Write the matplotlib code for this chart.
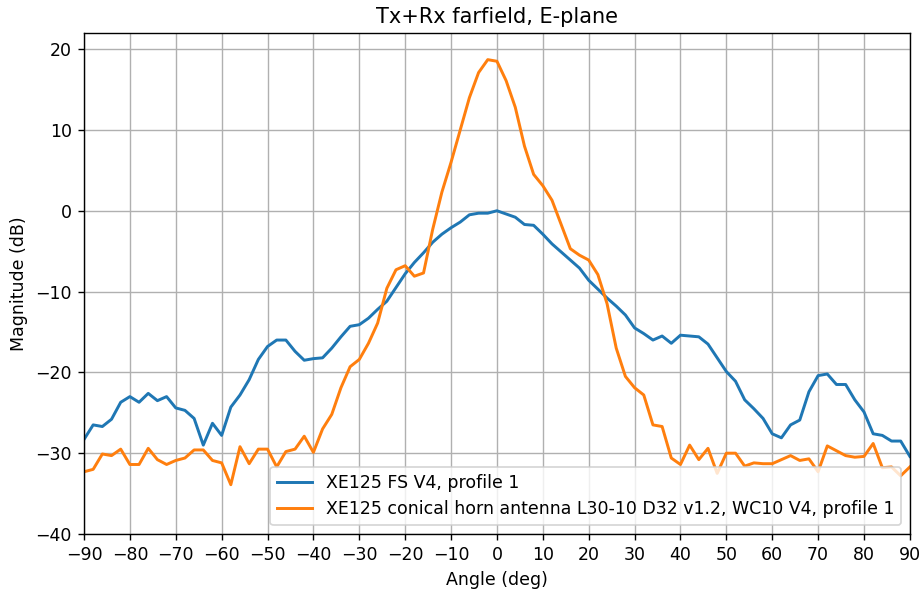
import numpy as np
import matplotlib
matplotlib.use('Agg')
import matplotlib.pyplot as plt

# angulos de medida (deg)
angles = np.arange(-90, 91, 2)

# XE125 FS V4, profile 1
fs_v4 = [-28.3, -26.5, -26.7, -25.8, -23.7, -23.0, -23.7, -22.6, -23.5, -23.0,
         -24.4, -24.7, -25.7, -29.0, -26.3, -27.8, -24.3, -22.8, -20.9, -18.4,
         -16.8, -16.0, -16.0, -17.4, -18.5, -18.3, -18.2, -17.0, -15.6, -14.3,
         -14.1, -13.3, -12.2, -11.2, -9.5, -7.8, -6.4, -5.2, -3.9, -2.9,
         -2.1, -1.4, -0.5, -0.3, -0.3, 0.0, -0.4, -0.8, -1.7, -1.8,
         -2.9, -4.1, -5.1, -6.1, -7.1, -8.6, -9.7, -10.8, -11.8, -12.9,
         -14.5, -15.2, -16.0, -15.5, -16.4, -15.4, -15.5, -15.6, -16.5, -18.2,
         -19.9, -21.1, -23.4, -24.5, -25.7, -27.6, -28.1, -26.5, -25.9, -22.4,
         -20.4, -20.2, -21.5, -21.5, -23.4, -24.9, -27.6, -27.8, -28.5, -28.5,
         -30.4]

# XE125 conical horn antenna
horn = [-32.3, -32.0, -30.1, -30.3, -29.5, -31.4, -31.4, -29.4, -30.8, -31.4,
        -30.9, -30.6, -29.6, -29.6, -30.9, -31.2, -33.9, -29.2, -31.3, -29.5,
        -29.5, -31.7, -29.8, -29.5, -27.9, -29.9, -27.0, -25.2, -21.9, -19.3,
        -18.4, -16.4, -13.9, -9.6, -7.3, -6.8, -8.1, -7.7, -2.3, 2.3,
        6.0, 10.0, 14.0, 17.1, 18.7, 18.5, 16.1, 12.8, 8.0, 4.5,
        3.1, 1.3, -1.7, -4.7, -5.5, -6.1, -7.9, -11.5, -17.0, -20.5,
        -21.9, -22.8, -26.5, -26.7, -30.6, -31.4, -29.0, -30.8, -29.4, -32.5,
        -30.0, -30.0, -31.6, -31.2, -31.3, -31.3, -30.8, -30.3, -30.9, -30.7,
        -32.3, -29.1, -29.7, -30.3, -30.5, -30.4, -28.8, -31.8, -31.7, -32.8,
        -31.7]

labels = ['XE125 FS V4, profile 1',
          'XE125 conical horn antenna L30-10 D32 v1.2, WC10 V4, profile 1']

fig, ax = plt.subplots(figsize=(7.36, 4.712), dpi=125)
fig.subplots_adjust(left=0.0913, right=0.989, top=0.944, bottom=0.0934)

ax.plot(angles, fs_v4, lw=1.7, label=labels[0])
ax.plot(angles, horn, lw=1.7, label=labels[1])

ax.set_xlim(-90, 90)
ax.set_ylim(-40, 22)
ax.set_xticks(np.arange(-90, 91, 10))
ax.set_title('Tx+Rx farfield, E-plane')
ax.set_xlabel('Angle (deg)')
ax.set_ylabel('Magnitude (dB)')
ax.grid(True)
ax.legend(loc='lower right')

fig.savefig('out.png', dpi=125)
